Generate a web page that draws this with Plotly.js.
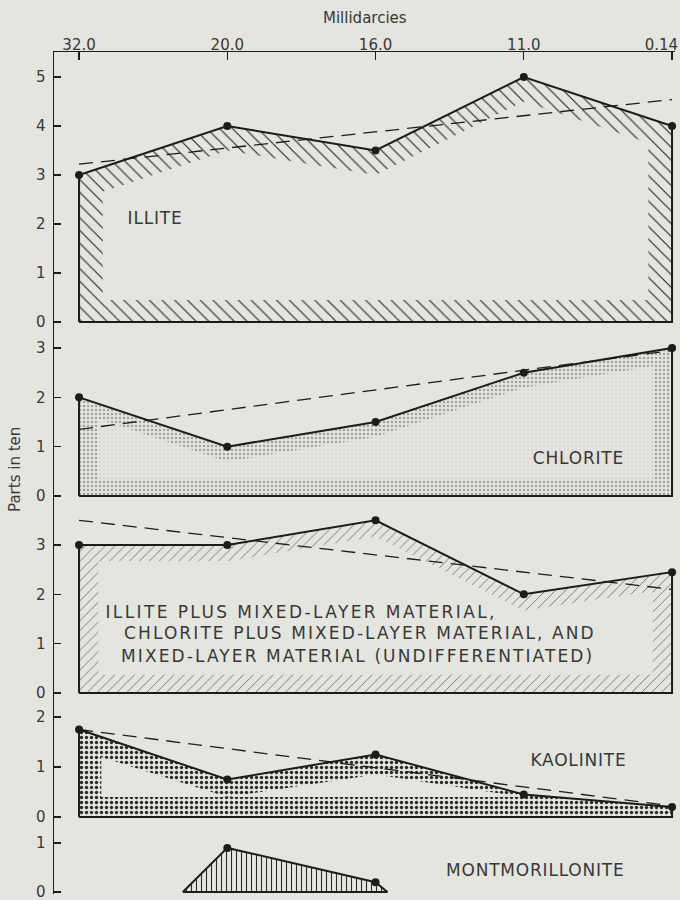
<!DOCTYPE html>
<html><head><meta charset="utf-8">
<script src="https://cdn.plot.ly/plotly-3.0.1.min.js"></script>
<style>
html,body{margin:0;padding:0;background:#e4e5de;}
g.annotation[data-index="4"] text { letter-spacing: 2.4px; }
g.annotation[data-index="5"] text, g.annotation[data-index="6"] text { letter-spacing: 2.1px; }
g.annotation[data-index="2"] text, g.annotation[data-index="3"] text, g.annotation[data-index="7"] text, g.annotation[data-index="8"] text { letter-spacing: 0.8px; }
</style>
</head><body><div id="chart" style="width:680px;height:900px;"></div>
<script>
// ---- data ----
const permeability = ["32.0", "20.0", "16.0", "11.0", "0.14"];   // millidarcies (top axis)
const sampleIndex = [0, 1, 2, 3, 4];
const illite = [3, 4, 3.5, 5, 4];
const chlorite = [2, 1, 1.5, 2.5, 3];
const mixedLayer = [3, 3, 3.5, 2, 2.45];
const kaolinite = [1.75, 0.75, 1.25, 0.45, 0.2];
const montIndex = [1, 2];
const montmorillonite = [0.9, 0.2];
const montFootIndex = [0.7, 2.08];     // where the montmorillonite outline meets 0
const trendIndex = [0, 4];
const illiteTrend = [3.22, 4.54];
const chloriteTrend = [1.35, 2.95];
const mixedTrend = [3.5, 2.1];
const kaoliniteTrend = [1.75, 0.22];

// ---- styling ----
const bg = '#e4e5de';
const ink = '#1c1c1c';
const txt = '#383838';
const FONT = 'DejaVu Sans';

function interp(vals, x) {
  const i = Math.min(Math.floor(x), vals.length - 2);
  const t = x - i;
  return vals[i] * (1 - t) + vals[i + 1] * t;
}

const traces = [];
function panel(vals, trend, ya, pattern, band, innerFill) {
  const n = vals.length;
  const ox = [0].concat(sampleIndex, [n - 1, 0]);
  const oy = [0].concat(vals, [0, 0]);
  traces.push({x: ox, y: oy, yaxis: ya, mode: 'lines', fill: 'toself',
    fillcolor: bg, fillpattern: pattern, line: {color: ink, width: 2}, hoverinfo: 'skip'});
  // inner un-patterned area (pattern only as a band along the outline)
  const ix = [band.dx].concat(sampleIndex.slice(1, n - 1), [n - 1 - band.dx]);
  const itop = ix.map(x => Math.max(band.dyB, interp(vals, x) - band.dyT));
  const px = ix.concat(ix.slice().reverse());
  const py = itop.concat(ix.map(() => band.dyB));
  traces.push({x: px, y: py, yaxis: ya, mode: 'none', fill: 'toself',
    fillcolor: innerFill || bg, hoverinfo: 'skip'});
  traces.push({x: trendIndex, y: trend, yaxis: ya, mode: 'lines',
    line: {color: ink, width: 1.3, dash: '14px,8px'}, hoverinfo: 'skip'});
  traces.push({x: sampleIndex, y: vals, yaxis: ya, mode: 'markers', cliponaxis: false,
    marker: {color: ink, size: 8}, hoverinfo: 'skip'});
}

panel(illite, illiteTrend, 'y',
  {shape: '\\', size: 9, solidity: 0.13, fgcolor: '#2a2a2a', bgcolor: bg},
  {dx: 0.16, dyT: 0.5, dyB: 0.45});
panel(chlorite, chloriteTrend, 'y2',
  {shape: '.', size: 4, solidity: 0.3, fgcolor: '#a2a29c', bgcolor: bg},
  {dx: 0.13, dyT: 0.3, dyB: 0.35}, 'rgba(228,229,222,0.85)');
panel(mixedLayer, mixedTrend, 'y3',
  {shape: '/', size: 7, solidity: 0.12, fgcolor: '#6a6a66', bgcolor: bg},
  {dx: 0.13, dyT: 0.33, dyB: 0.37});
panel(kaolinite, kaoliniteTrend, 'y4',
  {shape: '.', size: 5, solidity: 0.36, fgcolor: '#2a2a2a', bgcolor: bg},
  {dx: 0.15, dyT: 0.4, dyB: 0.4});

// montmorillonite
traces.push({x: [montFootIndex[0]].concat(montIndex, [montFootIndex[1], montFootIndex[0]]),
  y: [0].concat(montmorillonite, [0, 0]), yaxis: 'y5', mode: 'lines', fill: 'toself',
  fillcolor: bg, fillpattern: {shape: '|', size: 5, solidity: 0.22, fgcolor: '#2a2a2a', bgcolor: bg},
  line: {color: ink, width: 2}, hoverinfo: 'skip'});
traces.push({x: montIndex, y: montmorillonite, yaxis: 'y5', mode: 'markers', cliponaxis: false,
  marker: {color: ink, size: 8}, hoverinfo: 'skip'});

const yCommon = {showline: true, linecolor: ink, linewidth: 1.5, ticks: 'inside', ticklen: 7,
  tickcolor: ink, tickwidth: 1.3, showgrid: false, zeroline: false, anchor: 'x',
  ticklabelstandoff: 4, ticklabeloverflow: 'allow',
  tickfont: {family: FONT, size: 15, color: txt}, fixedrange: true};

const labFont = {family: FONT, size: 17, color: txt};
function lab(text, x, y, yref) {
  return {text: text, x: x, y: y, xref: 'x', yref: yref, showarrow: false,
    xanchor: 'center', yanchor: 'middle', font: labFont};
}

const layout = {
  width: 680, height: 900, margin: {l: 54, r: 5, t: 52, b: 6},
  paper_bgcolor: bg, plot_bgcolor: bg, showlegend: false,
  xaxis: {range: [-0.169, 4.02], side: 'top', anchor: 'y', tickvals: sampleIndex, ticktext: permeability,
    showline: true, linecolor: ink, linewidth: 1.5, ticks: 'inside', ticklen: 8, tickcolor: ink, tickwidth: 1.3,
    ticklabelstandoff: -5, ticklabeloverflow: 'allow',
    showgrid: false, zeroline: false, tickfont: {family: FONT, size: 15, color: txt}, fixedrange: true},
  yaxis: Object.assign({}, yCommon, {domain: [0.67696, 1], range: [-0.041, 5.51], tickvals: [0, 1, 2, 3, 4, 5]}),
  yaxis2: Object.assign({}, yCommon, {domain: [0.47031, 0.67696], range: [-0.041, 3.487], tickvals: [0, 1, 2, 3]}),
  yaxis3: Object.assign({}, yCommon, {domain: [0.23634, 0.47031], range: [-0.041, 3.953], tickvals: [0, 1, 2, 3]}),
  yaxis4: Object.assign({}, yCommon, {domain: [0.08907, 0.23634], range: [-0.04, 2.44], tickvals: [0, 1, 2]}),
  yaxis5: Object.assign({}, yCommon, {domain: [0, 0.08907], range: [-0.041, 1.49], tickvals: [0, 1]}),
  annotations: [
    {text: 'Millidarcies', xref: 'paper', yref: 'paper', x: 0.5, y: 1.0404, showarrow: false,
      xanchor: 'center', yanchor: 'middle', font: {family: FONT, size: 15, color: txt}},
    {text: 'Parts in ten', xref: 'paper', yref: 'paper', x: -0.0628, y: 0.5036, textangle: -90, showarrow: false,
      xanchor: 'center', yanchor: 'middle', font: {family: FONT, size: 15, color: txt}},
    lab('ILLITE', 0.51, 2.12, 'y'),
    lab('CHLORITE', 3.37, 0.77, 'y2'),
    lab('ILLITE PLUS MIXED-LAYER MATERIAL,', 1.5, 1.64, 'y3'),
    lab('CHLORITE PLUS MIXED-LAYER MATERIAL, AND', 1.895, 1.22, 'y3'),
    lab('MIXED-LAYER MATERIAL (UNDIFFERENTIATED)', 1.88, 0.75, 'y3'),
    lab('KAOLINITE', 3.37, 1.14, 'y4'),
    lab('MONTMORILLONITE', 3.08, 0.45, 'y5')
  ]
};

Plotly.newPlot('chart', traces, layout, {displayModeBar: false, staticPlot: true}).then(function () {
  // keep the last top-axis label (0.14) inside the page, flush with its right edge
  const labels = document.querySelectorAll('#chart .xtick text');
  const last = labels[labels.length - 1];
  if (last) { last.setAttribute('text-anchor', 'end'); last.setAttribute('dx', '6'); }
});
</script>
</body></html>
